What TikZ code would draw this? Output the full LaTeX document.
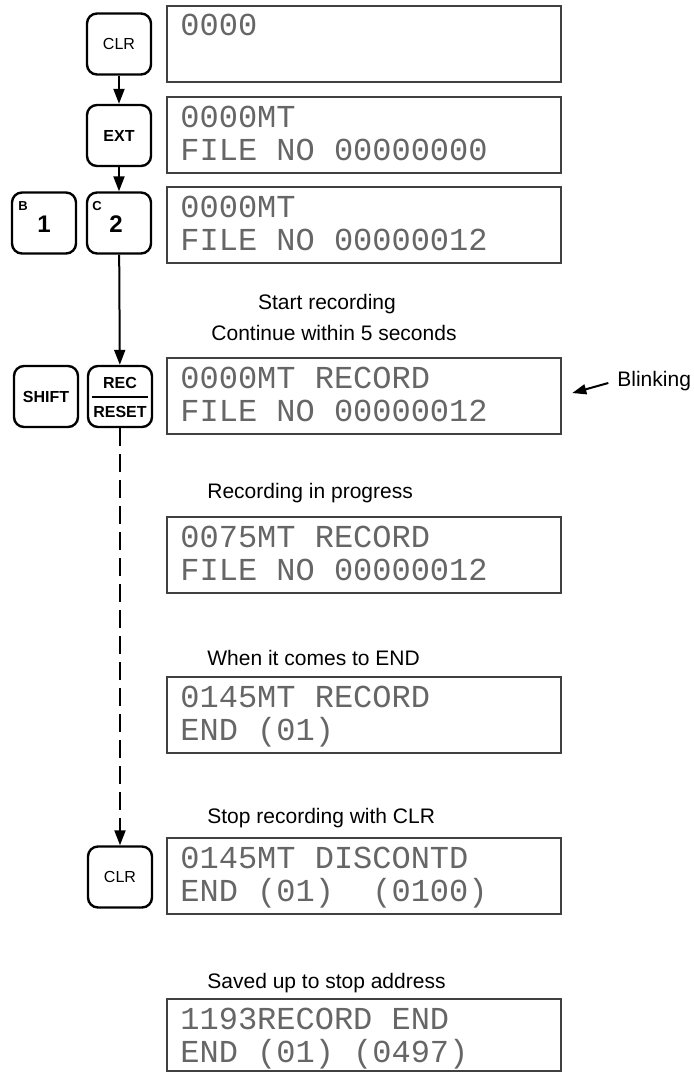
\documentclass[tikz,border=0pt]{standalone}
\usepackage{fontspec}
\setmainfont{Liberation Sans}
\newfontfamily\lcdfont{Liberation Mono}
\usetikzlibrary{arrows.meta}
\begin{document}
\begin{tikzpicture}[x=0.5pt,y=-0.5pt,
 keybox/.style={draw, line width=1.2pt, rounded corners=5pt, minimum width=32pt, minimum height=30.5pt, inner sep=0pt, font=\fontsize{8}{9}\selectfont},
 lcdbox/.style={draw=black!75, line width=0.7pt, minimum width=197pt, minimum height=38pt, inner sep=0pt},
 lcdtext/.style={anchor=base west, inner sep=0pt, font=\lcdfont\fontsize{16}{16}\selectfont, text=black!60},
 caption/.style={anchor=base west, inner sep=0pt, font=\fontsize{10.5}{12}\selectfont},
 ccaption/.style={caption, anchor=base},
 flow/.style={line width=1pt, -{Triangle[length=7.5pt,width=5.5pt]}},
 keytag/.style={inner sep=0pt, font=\bfseries\fontsize{6.5}{7}\selectfont},
 keylabel/.style={inner sep=0pt, font=\bfseries\fontsize{8}{9}\selectfont},
 keydigit/.style={inner sep=0pt, font=\bfseries\fontsize{12}{12}\selectfont},
]
\useasboundingbox (0,0) rectangle (694,1072);

% displays
\node[lcdbox] (d1) at (364,44) {};
\node[lcdbox] (d2) at (364,135) {};
\node[lcdbox] (d3) at (364,225) {};
\node[lcdbox] (d4) at (364,396) {};
\node[lcdbox] (d5) at (364,555) {};
\node[lcdbox] (d6) at (364,715) {};
\node[lcdbox] (d7) at (364,876) {};
\node[lcdbox, minimum height=36pt] (d8) at (364,1035) {};

\node[lcdtext] (t1a) at (180,35) {0000};
\node[lcdtext] (t2a) at (180,127) {0000MT};
\node[lcdtext] (t2b) at (180,160) {FILE NO 00000000};
\node[lcdtext] (t3a) at (180,217) {0000MT};
\node[lcdtext] (t3b) at (180,250) {FILE NO 00000012};
\node[lcdtext] (t4a) at (180,388) {0000MT RECORD};
\node[lcdtext] (t4b) at (180,421) {FILE NO 00000012};
\node[lcdtext] (t5a) at (180,547) {0075MT RECORD};
\node[lcdtext] (t5b) at (180,580) {FILE NO 00000012};
\node[lcdtext] (t6a) at (180,707) {0145MT RECORD};
\node[lcdtext] (t6b) at (180,740) {END (01)};
\node[lcdtext] (t7a) at (180,868) {0145MT DISCONTD};
\node[lcdtext] (t7b) at (180,901) {END (01)\ \ (0100)};
\node[lcdtext] (t8a) at (180,1029) {1193RECORD END};
\node[lcdtext] (t8b) at (180,1062) {END (01) (0497)};

% captions
\node[ccaption] (c1) at (327,309.5) {Start recording};
\node[ccaption] (c2) at (334,340) {Continue within 5 seconds};
\node[caption] (c3) at (207,498) {Recording in progress};
\node[caption] (c4) at (207,665) {When it comes to END};
\node[caption] (c5) at (207,823) {Stop recording with CLR};
\node[caption] (c6) at (207,988) {Saved up to stop address};
\node[caption] (blink) at (617,386) {Blinking};

% keys
\node[keybox] (k1) at (119,44) {CLR};
\node[keybox, font=\bfseries\fontsize{8}{9}\selectfont] (k2) at (119,135.5) {EXT};
\node[keybox] (k3b) at (44,223) {};
\node[keybox] (k3c) at (119,223) {};
\node[keytag] (k3bt) at (23,206) {B};
\node[keydigit] (k3bd) at (44,224) {1};
\node[keytag] (k3ct) at (97,206) {C};
\node[keydigit] (k3cd) at (116,224) {2};
\node[keybox, font=\bfseries\fontsize{8}{9}\selectfont] (k4s) at (46,396.5) {SHIFT};
\node[keybox] (k4r) at (120,396.5) {};
\node[keylabel] (k4ra) at (120,383) {REC};
\node[keylabel] (k4rb) at (120,412) {RESET};
\draw[line width=1pt] (k4r.west) ++(5,0) -- ([xshift=-2.5pt]k4r.east);
\node[keybox] (k5) at (120,877) {CLR};

% connectors
\draw[flow] (k1) -- (k2);
\draw[flow] (k2) -- (k3c);
\draw[flow] (k3c) -- (k4r);
\draw[flow, dash pattern=on 9pt off 4pt] (k4r) -- (k5);
\draw[line width=1pt, -{Triangle[length=7pt,width=5pt]}, shorten <=4.5pt, shorten >=5.5pt] (blink.west) -- (d4.east);
\end{tikzpicture}
\end{document}
